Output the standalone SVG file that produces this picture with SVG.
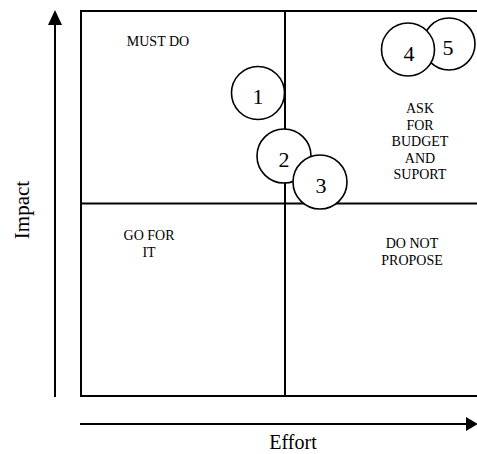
<svg xmlns="http://www.w3.org/2000/svg" width="477" height="454" viewBox="0 0 477 454">
<style>
.ln{stroke:#000;stroke-width:2;fill:none}
.c{fill:#fff;stroke:#000;stroke-width:1.6}
.lbl{font-family:"Liberation Serif","Times New Roman",serif;font-size:14px;fill:#000;text-anchor:middle}
.num{font-family:"Liberation Serif","Times New Roman",serif;font-size:22px;fill:#000;text-anchor:middle}
.ax{font-family:"Liberation Serif","Times New Roman",serif;font-size:21px;fill:#000;text-anchor:middle}
</style>
<rect width="477" height="454" fill="#fff"/>
<g id="connectors">
<line class="ln" x1="55" y1="24" x2="55" y2="397"/>
<polygon points="55,10 48,25 62,25" fill="#000"/>
<line class="ln" x1="80" y1="424" x2="467" y2="424"/>
<polygon points="478,424 466,417 466,431" fill="#000"/>
</g>
<g id="grid">
<rect class="ln" x="81" y="11" width="400" height="385"/>
<line class="ln" x1="285" y1="11" x2="285" y2="396"/>
<line class="ln" x1="81" y1="203.5" x2="481" y2="203.5"/>
</g>
<g id="quadrant-labels">
<text class="lbl" x="158" y="46">MUST DO</text>
<text class="lbl" x="420" y="113">ASK</text>
<text class="lbl" x="420" y="129.5">FOR</text>
<text class="lbl" x="420" y="146">BUDGET</text>
<text class="lbl" x="420" y="162.5">AND</text>
<text class="lbl" x="420" y="179">SUPORT</text>
<text class="lbl" x="149" y="240">GO FOR</text>
<text class="lbl" x="149" y="257">IT</text>
<text class="lbl" x="412" y="248">DO NOT</text>
<text class="lbl" x="412" y="264.5">PROPOSE</text>
</g>
<g id="axis-labels">
<text class="ax" x="293" y="449" style="font-size:20px">Effort</text>
<text class="ax" transform="translate(28.5,210) rotate(-90)">Impact</text>
</g>
<g id="node-1">
<circle class="c" cx="258" cy="93" r="26.5"/>
<text class="num" x="258" y="104">1</text>
</g>
<g id="node-2">
<circle class="c" cx="284" cy="156" r="27"/>
<text class="num" x="284" y="167">2</text>
</g>
<g id="node-3">
<circle class="c" cx="320" cy="182" r="27"/>
<text class="num" x="321" y="193">3</text>
</g>
<g id="node-5">
<circle class="c" cx="449" cy="44" r="26"/>
<text class="num" x="448" y="54.5">5</text>
</g>
<g id="node-4">
<circle class="c" cx="408" cy="49.5" r="26.5"/>
<text class="num" x="409" y="61">4</text>
</g>
</svg>
